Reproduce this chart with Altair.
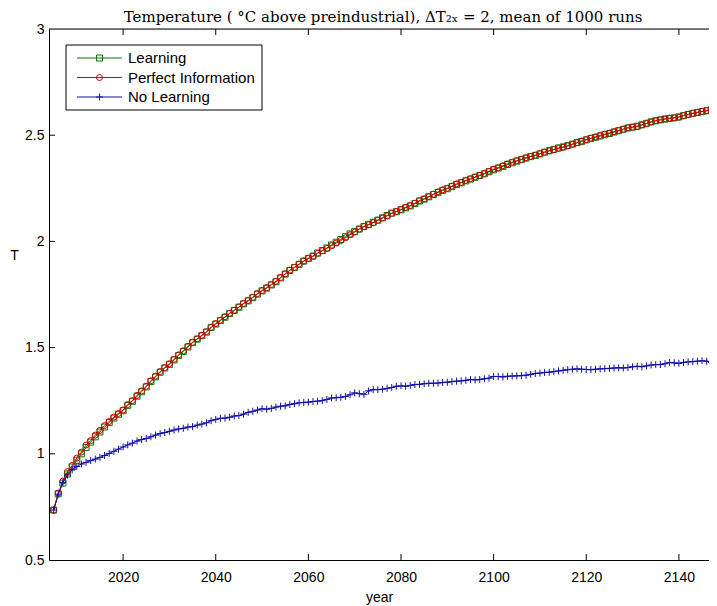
import altair as alt
import pandas as pd

# ---------------- data ----------------
years = list(range(2005, 2149))

learning = [
    0.735, 0.812, 0.862, 0.905, 0.938,
    0.97, 1.0, 1.03, 1.055, 1.08, 1.103, 1.126, 1.147, 1.168, 1.186,
    1.203, 1.228, 1.247, 1.271, 1.292, 1.315, 1.34, 1.362, 1.384, 1.404,
    1.421, 1.442, 1.463, 1.482, 1.503, 1.523, 1.54, 1.556, 1.573, 1.594,
    1.611, 1.627, 1.643, 1.66, 1.675, 1.69, 1.706, 1.72, 1.735, 1.752,
    1.767, 1.78, 1.795, 1.81, 1.828, 1.846, 1.863, 1.877, 1.892, 1.907,
    1.92, 1.931, 1.945, 1.957, 1.969, 1.983, 1.996, 2.009, 2.022, 2.035,
    2.046, 2.058, 2.07, 2.08, 2.09, 2.1, 2.111, 2.122, 2.133, 2.14,
    2.149, 2.158, 2.167, 2.178, 2.19, 2.199, 2.21, 2.221, 2.231, 2.24,
    2.248, 2.258, 2.268, 2.276, 2.285, 2.293, 2.302, 2.31, 2.318, 2.328,
    2.337, 2.345, 2.353, 2.362, 2.37, 2.378, 2.385, 2.392, 2.399, 2.405,
    2.412, 2.42, 2.427, 2.433, 2.44, 2.445, 2.451, 2.458, 2.465, 2.471,
    2.478, 2.485, 2.49, 2.496, 2.502, 2.508, 2.515, 2.521, 2.528, 2.534,
    2.538, 2.542, 2.549, 2.556, 2.563, 2.568, 2.572, 2.576, 2.579, 2.582,
    2.586, 2.592, 2.598, 2.603, 2.607, 2.611, 2.615, 2.62, 2.626,
]

perfect_information = [
    0.735, 0.815, 0.872, 0.916, 0.945,
    0.98, 1.008, 1.041, 1.062, 1.088, 1.11, 1.133, 1.152, 1.173, 1.19,
    1.206, 1.232, 1.25, 1.275, 1.296, 1.318, 1.344, 1.366, 1.387, 1.406,
    1.424, 1.445, 1.466, 1.485, 1.506, 1.525, 1.541, 1.558, 1.575, 1.596,
    1.613, 1.629, 1.645, 1.662, 1.676, 1.692, 1.708, 1.722, 1.737, 1.754,
    1.769, 1.782, 1.797, 1.812, 1.83, 1.847, 1.865, 1.878, 1.893, 1.908,
    1.92, 1.93, 1.944, 1.956, 1.967, 1.98, 1.992, 2.004, 2.017, 2.031,
    2.044, 2.058, 2.07, 2.078, 2.088, 2.1, 2.11, 2.12, 2.132, 2.141,
    2.15, 2.16, 2.169, 2.18, 2.192, 2.2, 2.211, 2.222, 2.233, 2.243,
    2.25, 2.26, 2.271, 2.278, 2.287, 2.295, 2.303, 2.311, 2.32, 2.33,
    2.34, 2.347, 2.356, 2.365, 2.373, 2.38, 2.386, 2.394, 2.4, 2.406,
    2.413, 2.42, 2.426, 2.432, 2.438, 2.443, 2.45, 2.457, 2.465, 2.472,
    2.479, 2.486, 2.492, 2.499, 2.505, 2.51, 2.516, 2.522, 2.528, 2.535,
    2.538, 2.541, 2.548, 2.555, 2.562, 2.568, 2.573, 2.577, 2.58, 2.582,
    2.585, 2.592, 2.598, 2.603, 2.608, 2.612, 2.616, 2.621, 2.627,
]

no_learning = [
    0.735, 0.81, 0.865, 0.9, 0.925,
    0.94, 0.952, 0.96, 0.968, 0.975, 0.983, 0.992, 1.002, 1.012, 1.022,
    1.032, 1.042, 1.05, 1.06, 1.067, 1.072, 1.08, 1.088, 1.095, 1.1,
    1.106, 1.112, 1.117, 1.12, 1.126, 1.128, 1.135, 1.14, 1.146, 1.156,
    1.162, 1.167, 1.168, 1.172, 1.178, 1.18, 1.187, 1.195, 1.2, 1.206,
    1.212, 1.21, 1.214, 1.22, 1.224, 1.226, 1.232, 1.236, 1.24, 1.242,
    1.243, 1.246, 1.248, 1.25, 1.256, 1.263, 1.264, 1.266, 1.27, 1.278,
    1.287, 1.283, 1.28, 1.296, 1.302, 1.302, 1.304, 1.308, 1.312, 1.318,
    1.32, 1.318, 1.322, 1.326, 1.327, 1.33, 1.332, 1.332, 1.333, 1.336,
    1.337, 1.34, 1.342, 1.343, 1.346, 1.35, 1.348, 1.35, 1.353, 1.356,
    1.364, 1.364, 1.362, 1.365, 1.366, 1.367, 1.368, 1.37, 1.374, 1.378,
    1.38, 1.383, 1.384, 1.387, 1.39, 1.393, 1.396, 1.398, 1.4, 1.398,
    1.397, 1.396, 1.398, 1.4, 1.401, 1.402, 1.404, 1.405, 1.404, 1.406,
    1.41, 1.412, 1.41, 1.414, 1.418, 1.42, 1.42, 1.424, 1.43, 1.428,
    1.426, 1.43, 1.433, 1.434, 1.436, 1.438, 1.436, 1.43, 1.428,
]

series_names = ["Learning", "Perfect Information", "No Learning"]
series_values = [learning, perfect_information, no_learning]
series_colors = ["#007a00", "#d00000", "#1010a8"]
x_ticks = [2020, 2040, 2060, 2080, 2100, 2120, 2140]
y_ticks = [0.5, 1, 1.5, 2, 2.5, 3]
title_text = "Temperature ( \u00b0C above preindustrial), \u0394T\u2082\u2093 = 2, mean of 1000 runs"

# ---------------- layout / style ----------------
W, H = 660, 531
X_DOMAIN = [2004, 2146.5]
Y_DOMAIN = [0.5, 3]
SANS = "Liberation Sans"
FS = 14
PLUS = "M-1,0L1,0M0,-1L0,1"
shapes = ["square", "circle", PLUS]
sizes = [36, 36, 49]

xscale = alt.Scale(domain=X_DOMAIN, nice=False, zero=False)
yscale = alt.Scale(domain=Y_DOMAIN, nice=False, zero=False)
xaxis = alt.Axis(values=x_ticks, format="d", ticks=False, grid=False,
                 domainColor="black", domainWidth=1, labelFont=SANS,
                 labelFontSize=FS, labelColor="black", labelPadding=10,
                 title="year", titleFont=SANS, titleFontSize=FS,
                 titleFontWeight="normal", titleColor="black",
                 titleY=37, titleBaseline="middle")
yaxis = alt.Axis(values=y_ticks, format="~g", ticks=False, grid=False,
                 domainColor="black", domainWidth=1, labelFont=SANS,
                 labelFontSize=FS, labelColor="black", labelPadding=5,
                 labelOverlap=False, labelFlush=False,
                 title="T", titleFont=SANS, titleFontSize=FS,
                 titleFontWeight="normal", titleColor="black",
                 titleAngle=0, titleX=-35, titleY=226,
                 titleAlign="center", titleBaseline="middle")
X = alt.X("year:Q", scale=xscale, axis=xaxis)
Y = alt.Y("T:Q", scale=yscale, axis=yaxis)

layers = []
for name, vals, col, shp, sz in zip(series_names, series_values,
                                     series_colors, shapes, sizes):
    df = pd.DataFrame({"year": years, "T": vals})
    base = alt.Chart(df)
    layers.append(base.mark_line(color=col, strokeWidth=1, clip=True)
                  .encode(x=X, y=Y))
    layers.append(base.mark_point(shape=shp, filled=False, color=col,
                                  size=sz, strokeWidth=1, opacity=1,
                                  clip=True)
                  .encode(x=X, y=Y))

# inward tick marks (MATLAB style) and top border
TL = 6
xt = alt.Chart(pd.DataFrame({"year": x_ticks}))
layers.append(xt.mark_rule(color="black", strokeWidth=1)
              .encode(x=X, y=alt.value(H), y2=alt.value(H - TL)))
layers.append(xt.mark_rule(color="black", strokeWidth=1)
              .encode(x=X, y=alt.value(0), y2=alt.value(TL)))
yt = alt.Chart(pd.DataFrame({"T": y_ticks[1:-1]}))
layers.append(yt.mark_rule(color="black", strokeWidth=1)
              .encode(y=Y, x=alt.value(0), x2=alt.value(TL)))
one = alt.Chart(pd.DataFrame({"k": [0]}))
layers.append(one.mark_rule(color="black", strokeWidth=1)
              .encode(x=alt.value(0), x2=alt.value(W), y=alt.value(0)))

# title as text above the plot
layers.append(alt.Chart(pd.DataFrame({"t": [title_text]}))
              .mark_text(align="center", baseline="middle",
                         font="DejaVu Serif", fontSize=15, color="black")
              .encode(x=alt.value(W / 2 + 4), y=alt.value(-12), text="t:N"))

# legend box
LX0, LX1, LY0, LY1 = 17, 213, 16, 81
layers.append(one.mark_rect(fill="white", stroke="black", strokeWidth=1)
              .encode(x=alt.value(LX0), x2=alt.value(LX1),
                      y=alt.value(LY0), y2=alt.value(LY1)))
for i, (name, col, shp, sz) in enumerate(zip(series_names, series_colors,
                                              shapes, sizes)):
    ry = 29 + 19.5 * i
    ld = alt.Chart(pd.DataFrame({"name": [name]}))
    layers.append(ld.mark_rule(color=col, strokeWidth=1)
                  .encode(x=alt.value(28), x2=alt.value(73), y=alt.value(ry)))
    layers.append(ld.mark_point(shape=shp, filled=False, color=col, size=sz,
                                strokeWidth=1, opacity=1)
                  .encode(x=alt.value(50.5), y=alt.value(ry)))
    layers.append(ld.mark_text(align="left", baseline="middle", font=SANS,
                               fontSize=15, color="black")
                  .encode(x=alt.value(79), y=alt.value(ry), text="name:N"))

chart = (
    alt.layer(*layers)
    .properties(
        width=W, height=H,
        padding={"left": 41, "top": 21, "right": 0, "bottom": 46},
        autosize=alt.AutoSizeParams(type="none"),
    )
    .configure_view(stroke=None)
    .configure(background="white")
)

chart.save("out.html", embed_options={"renderer": "svg", "actions": False})
